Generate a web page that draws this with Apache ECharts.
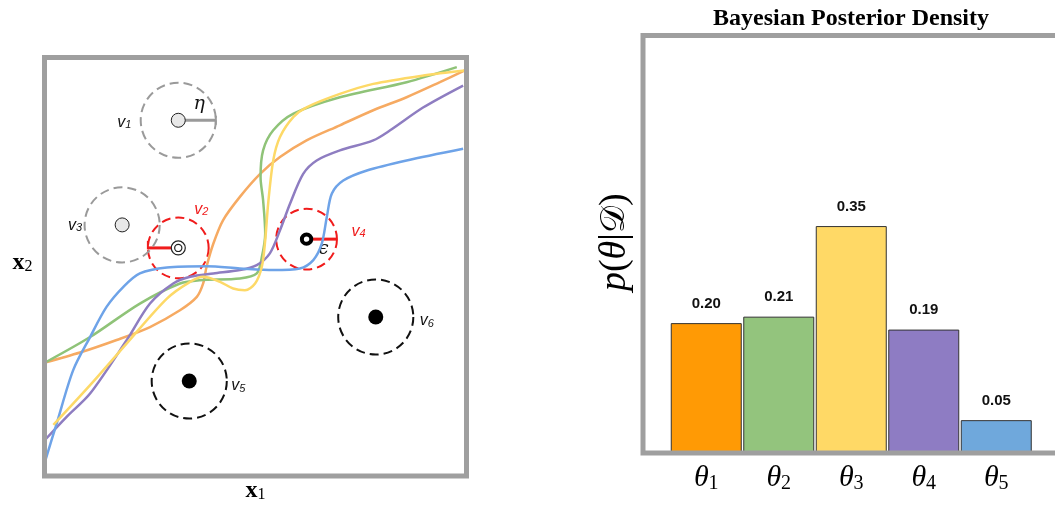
<!DOCTYPE html>
<html>
<head>
<meta charset="utf-8">
<script src="https://cdn.jsdelivr.net/npm/echarts@6/dist/echarts.min.js"></script>
<style>
  html, body { margin: 0; padding: 0; background: #ffffff; }
  #chart { width: 1055px; height: 506px; }
</style>
</head>
<body>
<div id="chart"></div>
<script>
// ---- Left panel: five candidate trajectories through the (x1, x2) plane ----
const orangePath = [[0.01,2.71],[0.84,2.95],[1.71,3.25],[2.50,3.56],[3.21,3.96],[3.61,4.28],[3.76,4.60],[3.84,5.00],[4.00,5.55],[4.23,6.11],[4.63,6.67],[5.11,7.22],[5.58,7.62],[6.21,8.02],[7.00,8.38],[7.79,8.74],[8.58,9.05],[9.37,9.41],[9.96,9.69]];
const greenPath = [[0.05,2.73],[1.08,3.32],[2.26,4.12],[3.21,4.60],[3.68,4.68],[4.63,4.72],[5.03,4.84],[5.15,5.23],[5.23,5.79],[5.18,6.59],[5.12,7.14],[5.18,7.78],[5.42,8.26],[5.90,8.66],[7.00,9.05],[8.58,9.41],[9.77,9.77]];
const purplePath = [[0.01,0.86],[0.53,1.42],[1.08,1.97],[1.95,3.25],[2.50,4.12],[3.05,4.60],[3.45,4.76],[4.00,4.84],[4.63,4.92],[5.03,5.04],[5.34,5.32],[5.58,5.87],[5.82,6.51],[6.13,7.22],[6.45,7.54],[7.00,7.78],[7.79,8.02],[8.19,8.26],[8.98,8.81],[9.92,9.33]];
const bluePath = [[0.01,0.34],[0.29,1.26],[0.68,2.53],[1.08,3.32],[1.47,4.04],[1.87,4.52],[2.26,4.84],[2.90,4.98],[3.84,5.01],[4.63,4.96],[5.42,4.92],[6.05,4.96],[6.37,5.16],[6.57,5.55],[6.69,6.19],[6.81,6.75],[7.08,7.06],[7.64,7.30],[8.58,7.54],[9.92,7.82]];
const yellowPath = [[0.21,1.22],[1.08,2.17],[1.95,3.17],[2.90,4.24],[3.45,4.64],[3.76,4.76],[4.16,4.64],[4.47,4.48],[4.75,4.44],[4.99,4.60],[5.15,5.00],[5.23,5.63],[5.30,6.51],[5.42,7.54],[5.58,8.10],[5.90,8.58],[6.21,8.81],[7.00,9.13],[7.79,9.37],[8.98,9.57],[9.96,9.69]];

// Vertices of the scene and their state
const nodeNames = ['v1', 'v2', 'v3', 'v4', 'v5', 'v6'];
const nodeX = [3.17, 3.17, 1.84, 6.21, 3.43, 7.85];
const nodeY = [8.50, 5.45, 6.00, 5.66, 2.27, 3.80];
const nodeState = ['prior', 'proposal', 'prior', 'accepted', 'observed', 'observed'];
const ETA = 0.89;   // neighbourhood radius η
const EPS = 0.72;   // tolerance radius ϵ

// ---- Right panel: posterior over the five trajectories ----
const thetaLabels = ['θ1', 'θ2', 'θ3', 'θ4', 'θ5'];
const posterior = [0.20, 0.21, 0.35, 0.19, 0.05];

const pathColors = ['#f6aa62', '#8fc378', '#8e7dc1', '#6ea3e8', '#fdd967'];
const barColors = ['#ff9a05', '#93c47d', '#ffd966', '#8e7cc3', '#6fa8dc'];

const FRAME = '#9f9f9f';
const SERIF = 'Liberation Serif';
const SANS = 'Liberation Sans';

// label placement around each vertex (pixels from its centre)
const nameOffset = { v1: [-54, 2], v2: [23, -38], v3: [-47, 1], v4: [52, -8], v5: [49, 5], v6: [51, 4] };

const chart = echarts.init(document.getElementById('chart'), null, { renderer: 'canvas' });

function frameSeries(gridIdx) {
  return {
    type: 'custom', xAxisIndex: gridIdx, yAxisIndex: gridIdx, z: 20, silent: true,
    data: [[0, 0]],
    renderItem(params) {
      const c = params.coordSys;
      return { type: 'rect', shape: { x: c.x, y: c.y, width: c.width, height: c.height },
               style: { fill: 'none', stroke: FRAME, lineWidth: 5 } };
    }
  };
}

const nodeData = nodeNames.map((n, i) => ({ name: n, value: [nodeX[i], nodeY[i]] }));

const stateColor = { prior: '#9a9a9a', proposal: '#f01c1c', accepted: '#f01c1c', observed: '#111111' };

// dashed neighbourhoods and radius markers
const regionSeries = {
  type: 'custom', xAxisIndex: 0, yAxisIndex: 0, z: 1, silent: true,
  data: nodeData,
  renderItem(params, api) {
    const i = params.dataIndex;
    const st = nodeState[i];
    const c = api.coord([api.value(0), api.value(1)]);
    const red = st === 'proposal' || st === 'accepted';
    const r = api.size([red ? EPS : ETA, 0])[0];
    const col = stateColor[st];
    const kids = [{
      type: 'circle', shape: { cx: c[0], cy: c[1], r: r },
      style: { fill: 'none', stroke: col, lineWidth: 2, lineDash: [9, 5] }
    }];
    const name = nodeNames[i];
    if (name === 'v1') {
      kids.push({ type: 'line', shape: { x1: c[0], y1: c[1], x2: c[0] + r, y2: c[1] }, style: { stroke: '#9a9a9a', lineWidth: 3 } });
      kids.push({ type: 'line', shape: { x1: c[0] + r, y1: c[1] - 4.5, x2: c[0] + r, y2: c[1] + 4.5 }, style: { stroke: '#9a9a9a', lineWidth: 2 } });
      kids.push({ type: 'text', x: c[0] + 21, y: c[1] - 16,
        style: { text: 'η', fontFamily: 'DejaVu Serif', fontStyle: 'italic', fontSize: 19, fill: '#111', align: 'center', verticalAlign: 'middle' } });
    } else if (name === 'v2') {
      kids.push({ type: 'line', shape: { x1: c[0], y1: c[1], x2: c[0] - r, y2: c[1] }, style: { stroke: '#f01c1c', lineWidth: 3 } });
      kids.push({ type: 'line', shape: { x1: c[0] - r, y1: c[1] + 1.5, x2: c[0] - r, y2: c[1] - 7 }, style: { stroke: '#f01c1c', lineWidth: 2 } });
    } else if (name === 'v4') {
      kids.push({ type: 'line', shape: { x1: c[0], y1: c[1], x2: c[0] + r, y2: c[1] }, style: { stroke: '#f01c1c', lineWidth: 3 } });
      kids.push({ type: 'text', x: c[0] + 17, y: c[1] + 10,
        style: { text: 'ϵ', fontFamily: 'DejaVu Serif', fontStyle: 'italic', fontSize: 18, fill: '#111', align: 'center', verticalAlign: 'middle' } });
    }
    return { type: 'group', children: kids };
  }
};

// vertex glyphs and names
const glyphSeries = {
  type: 'custom', xAxisIndex: 0, yAxisIndex: 0, z: 5, silent: true,
  data: nodeData,
  renderItem(params, api) {
    const i = params.dataIndex;
    const st = nodeState[i];
    const c = api.coord([api.value(0), api.value(1)]);
    const kids = [];
    if (st === 'prior') {
      kids.push({ type: 'circle', shape: { cx: c[0], cy: c[1], r: 7 }, style: { fill: '#e8e8e8', stroke: '#222', lineWidth: 1 } });
    } else if (st === 'observed') {
      kids.push({ type: 'circle', shape: { cx: c[0], cy: c[1], r: 7.5 }, style: { fill: '#000' } });
    } else if (st === 'proposal') {
      kids.push({ type: 'circle', shape: { cx: c[0], cy: c[1], r: 7 }, style: { fill: '#fff', stroke: '#222', lineWidth: 1.2 } });
      kids.push({ type: 'circle', shape: { cx: c[0], cy: c[1], r: 3.6 }, style: { fill: '#fff', stroke: '#222', lineWidth: 1.2 } });
    } else {
      kids.push({ type: 'circle', shape: { cx: c[0], cy: c[1], r: 4.7 }, style: { fill: '#fff', stroke: '#000', lineWidth: 4 } });
    }
    const name = nodeNames[i];
    const off = nameOffset[name];
    const red = st === 'proposal' || st === 'accepted';
    kids.push({
      type: 'text', x: c[0] + off[0], y: c[1] + off[1],
      style: {
        text: '{v|' + name.charAt(0) + '}{s|' + name.slice(1) + '}',
        align: 'center', verticalAlign: 'middle',
        rich: {
          v: { fontFamily: SANS, fontStyle: 'italic', fontSize: 16, fill: red ? '#f01c1c' : '#111', verticalAlign: 'bottom' },
          s: { fontFamily: SANS, fontStyle: 'italic', fontSize: 11, fill: red ? '#f01c1c' : '#111', verticalAlign: 'bottom', lineHeight: 6 }
        }
      }
    });
    return { type: 'group', children: kids };
  }
};

const pathSeries = [orangePath, greenPath, purplePath, bluePath, yellowPath].map((p, k) => ({
  type: 'line', xAxisIndex: 0, yAxisIndex: 0, z: 3, data: p, smooth: 0.3,
  showSymbol: false, silent: true,
  lineStyle: { color: pathColors[k], width: 2.5 }
}));

const hiddenAxis = { axisLine: { show: false }, axisTick: { show: false }, axisLabel: { show: false }, splitLine: { show: false } };

const option = {
  animation: false,
  backgroundColor: '#ffffff',
  title: {
    text: 'Bayesian Posterior Density',
    left: 846, top: 2, textAlign: 'center',
    textStyle: { fontFamily: SERIF, fontWeight: 'bold', fontSize: 24, color: '#000' }
  },
  grid: [
    { left: 44.5, top: 57.5, width: 422, height: 418.5, outerBoundsMode: 'none' },
    { left: 670, top: 32, width: 362.5, height: 420.5, outerBoundsMode: 'none' },
    { left: 643, top: 35.5, width: 430, height: 417.5, outerBoundsMode: 'none' }
  ],
  xAxis: [
    Object.assign({ type: 'value', gridIndex: 0, min: 0, max: 10,
      name: '{b|x}{s|1}', nameLocation: 'middle', nameGap: 3,
      nameTextStyle: { rich: {
        b: { fontFamily: SERIF, fontWeight: 'bold', fontSize: 24, color: '#000', verticalAlign: 'bottom' },
        s: { fontFamily: SERIF, fontSize: 16, color: '#000', verticalAlign: 'bottom', lineHeight: 6 } } } }, hiddenAxis),
    { type: 'category', gridIndex: 1, data: thetaLabels,
      axisLine: { show: false }, axisTick: { show: false }, splitLine: { show: false },
      axisLabel: {
        margin: 11,
        formatter: (v) => '{t|' + v.charAt(0) + '}{s|' + v.slice(1) + '}',
        rich: {
          t: { fontFamily: SERIF, fontStyle: 'italic', fontSize: 30, color: '#000', verticalAlign: 'bottom' },
          s: { fontFamily: SERIF, fontSize: 20, color: '#000', verticalAlign: 'bottom', lineHeight: 8 }
        }
      } },
    Object.assign({ type: 'value', gridIndex: 2, min: 0, max: 1 }, hiddenAxis)
  ],
  yAxis: [
    Object.assign({ type: 'value', gridIndex: 0, min: 0, max: 10,
      name: '{b|x}{s|2}', nameLocation: 'middle', nameRotate: 0, nameGap: 12,
      nameTextStyle: { padding: [0, 0, 8, 0], rich: {
        b: { fontFamily: SERIF, fontWeight: 'bold', fontSize: 24, color: '#000', verticalAlign: 'bottom' },
        s: { fontFamily: SERIF, fontSize: 16, color: '#000', verticalAlign: 'bottom', lineHeight: 6 } } } }, hiddenAxis),
    Object.assign({ type: 'value', gridIndex: 1, min: 0, max: 0.65,
      name: '{i|p}{n|(}{i|θ}{n||}{c|𝒟}{n|)}', nameLocation: 'middle', nameRotate: 90, nameGap: 36,
      nameTextStyle: { rich: {
        i: { fontFamily: SERIF, fontStyle: 'italic', fontSize: 38, color: '#000' },
        n: { fontFamily: SERIF, fontSize: 38, color: '#000' },
        c: { fontFamily: 'DejaVu Serif', fontSize: 34, color: '#000' } } } }, hiddenAxis),
    Object.assign({ type: 'value', gridIndex: 2, min: 0, max: 1 }, hiddenAxis)
  ],
  series: [
    regionSeries,
    ...pathSeries,
    glyphSeries,
    frameSeries(0),
    {
      type: 'bar', xAxisIndex: 1, yAxisIndex: 1, barWidth: 71, z: 2, silent: true,
      data: posterior.map((v, k) => ({ value: v, itemStyle: { color: barColors[k] } })),
      itemStyle: { borderColor: '#333', borderWidth: 1 },
      label: {
        show: true, position: 'top', distance: 12,
        formatter: (p) => p.value.toFixed(2),
        fontFamily: SANS, fontWeight: 'bold', fontSize: 15, color: '#111'
      }
    },
    frameSeries(2)
  ]
};

chart.setOption(option);
</script>
</body>
</html>
